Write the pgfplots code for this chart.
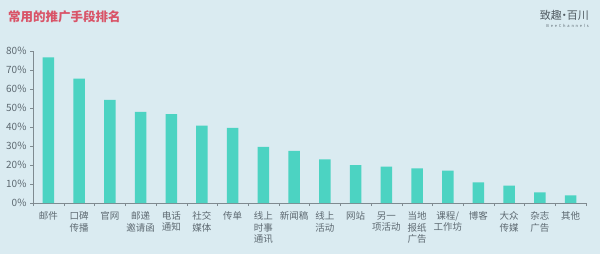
\documentclass[border=0pt]{standalone}
\usepackage{pgfplots}
\pgfplotsset{compat=1.18}
\usepackage{fontspec}
\setmainfont{Noto Sans CJK SC}
\definecolor{bg}{HTML}{DAEBF1}
\definecolor{bar}{HTML}{4CD3C2}
\definecolor{ttl}{HTML}{D95468}
\definecolor{txt}{HTML}{5E6A72}
\definecolor{axc}{HTML}{7F8A90}
\begin{document}
\begin{tikzpicture}[x=1bp,y=1bp]
\path[use as bounding box] (0,0) rectangle (600,-254);
\fill[bg] (0,0) rectangle (600,-254);
\node[anchor=west,font=\fontsize{12.5bp}{14bp}\selectfont\bfseries,text=ttl,inner sep=0] at (8,-17) {常用的推广手段排名};
\node[anchor=east,font=\fontsize{11bp}{12bp}\selectfont,text=txt!85!black,inner sep=0] at (589,-15) {致趣\kern-3bp·\kern-3bp百川};
\node[anchor=east,font=\fontsize{4bp}{5bp}\selectfont,text=txt,inner sep=0] at (589,-25.5) {B\hspace{1.8bp}e\hspace{1.8bp}e\hspace{1.8bp}C\hspace{1.8bp}h\hspace{1.8bp}a\hspace{1.8bp}n\hspace{1.8bp}n\hspace{1.8bp}e\hspace{1.8bp}l\hspace{1.8bp}s};
\begin{axis}[
  at={(33bp,-203bp)}, anchor=south west,
  scale only axis, width=553bp, height=152bp,
  xmin=-0.5, xmax=17.5, ymin=0, ymax=80,
  axis x line=bottom, axis y line=left,
  axis line style={draw=axc,-},
  ytick={0,10,...,80},
  yticklabel={\pgfmathprintnumber{\tick}\%},
  /pgf/number format/assume math mode=true,
  xtick={0,...,17},
  xticklabels={邮件,口碑\\传播,官网,邮递\\邀请函,电话\\通知,社交\\媒体,传单,线上\\时事\\通讯,新闻稿,线上\\活动,网站,另一\\项活动,当地\\报纸\\广告,课程/\\工作坊,博客,大众\\传媒,杂志\\广告,其他},
  xticklabel style={align=center,font=\fontsize{9.5bp}{11.5bp}\selectfont,text=txt,yshift=-2bp},
  yticklabel style={font=\fontsize{10bp}{12bp}\selectfont,text=txt},
  major x tick style={draw=none},
  minor xtick={-0.5,0.5,...,17.5},
  minor tick length=3bp,
  minor x tick style={draw=axc},
  tick align=outside,
  major tick length=3bp,
  ytick style={draw=axc},
]
\addplot[ybar, bar width=11.5bp, fill=bar, draw=none] coordinates {
(0,76.6) (1,65.5) (2,54.3) (3,48.0) (4,46.8) (5,40.7) (6,39.5) (7,29.6) (8,27.4)
(9,23.0) (10,20.0) (11,19.1) (12,18.2) (13,17.0) (14,10.9) (15,9.1) (16,5.6) (17,4.0)};
\end{axis}
\end{tikzpicture}
\end{document}
